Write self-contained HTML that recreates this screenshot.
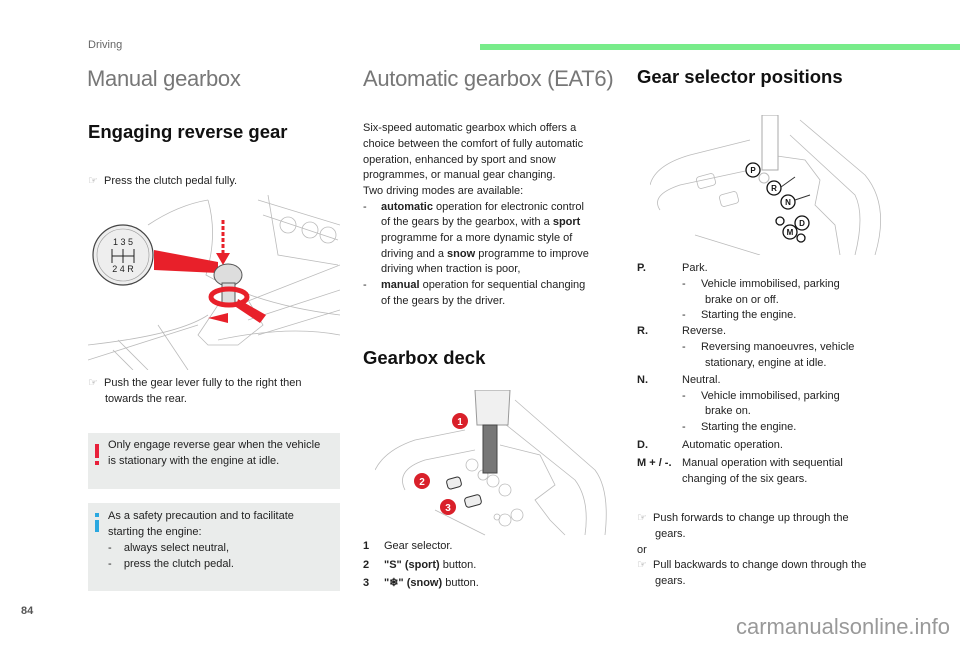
<!DOCTYPE html>
<html><head><meta charset="utf-8"><style>
*{margin:0;padding:0;box-sizing:border-box}
body{width:960px;height:649px;background:#fff;position:relative;overflow:hidden;font-family:"Liberation Sans",sans-serif;color:#222;font-size:11px}
.a{position:absolute;white-space:nowrap;line-height:15.7px}
.h1{position:absolute;font-size:22px;color:#777;white-space:nowrap;letter-spacing:-0.3px}
.h2{position:absolute;font-size:18.5px;font-weight:bold;color:#111;white-space:nowrap}
b{font-weight:bold}
.box{position:absolute;background:#eaeceb}
</style></head><body>
<div class="a" style="left:88px;top:38px;color:#666;font-size:11px">Driving</div>
<div style="position:absolute;left:480px;top:44px;width:480px;height:6px;background:#78ec8a"></div>

<div class="h1" style="left:87px;top:66px">Manual gearbox</div>
<div class="h1" style="left:363px;top:66px">Automatic gearbox (EAT6)</div>
<div class="h2" style="left:637px;top:66px">Gear selector positions</div>

<div class="h2" style="left:88px;top:121px">Engaging reverse gear</div>
<div class="a" style="left:88px;top:174px"><span style="color:#999">☞</span>&nbsp;&nbsp;Press the clutch pedal fully.</div>

<svg style="position:absolute;left:88px;top:195px" width="252" height="175" viewBox="0 0 252 175">
<g fill="none" stroke="#bbb" stroke-width="0.8">
<path d="M60 30 Q90 10 120 5"/><path d="M120 5 Q130 40 118 80 Q170 110 252 120"/>
<path d="M170 5 L252 30 M175 20 L250 45 M180 0 L190 60 L250 70"/>
<circle cx="200" cy="30" r="8"/><circle cx="222" cy="35" r="8"/><circle cx="240" cy="40" r="8"/>
<path d="M150 110 L252 70 M160 125 L252 95 M170 140 L252 115"/>
<path d="M0 150 Q90 140 120 120 M0 165 L110 130 M130 145 Q200 130 252 140"/>
<path d="M30 145 L60 175 M25 155 L45 175 M70 130 L100 175"/>
<path d="M110 140 L130 110 L160 105 L175 130 L150 150 L120 150 Z"/>
</g>
<circle cx="35" cy="60" r="30" fill="#eee" stroke="#444" stroke-width="1.2"/>
<circle cx="35" cy="60" r="26" fill="none" stroke="#999" stroke-width="0.6"/>
<text x="35" y="50" font-size="9" text-anchor="middle" fill="#222" font-family="Liberation Sans">1 3 5</text>
<text x="35" y="77" font-size="9" text-anchor="middle" fill="#222" font-family="Liberation Sans">2 4 R</text>
<path d="M24 54 V68 M35 54 V68 M46 54 V68 M24 61 H46" stroke="#222" fill="none"/>
<polygon points="66,55 130,67 130,78 66,75" fill="#e8202a"/>
<path d="M135 25 V60" stroke="#e8202a" stroke-width="3" stroke-dasharray="4 2"/>
<polygon points="128,58 142,58 135,70" fill="#e8202a"/>
<ellipse cx="140" cy="80" rx="14" ry="11" fill="#ddd" stroke="#555"/>
<rect x="134" y="88" width="13" height="20" fill="#ddd" stroke="#555"/>
<ellipse cx="141" cy="102" rx="18" ry="8" fill="none" stroke="#e8202a" stroke-width="5"/>
<polygon points="150,104 178,120 172,128 148,112" fill="#e8202a"/>
<polygon points="120,123 140,118 140,128" fill="#e8202a"/>
</svg>

<div class="a" style="left:88px;top:376px"><span style="color:#999">☞</span>&nbsp;&nbsp;Push the gear lever fully to the right then</div>
<div class="a" style="left:105px;top:392px">towards the rear.</div>

<div class="box" style="left:88px;top:433px;width:252px;height:56px"></div>
<div style="position:absolute;left:95px;top:444px;width:4px;height:14px;background:#e8203a"></div>
<div style="position:absolute;left:95px;top:461px;width:4px;height:4px;background:#e8203a"></div>
<div class="a" style="left:108px;top:438px">Only engage reverse gear when the vehicle</div>
<div class="a" style="left:108px;top:454px">is stationary with the engine at idle.</div>

<div class="box" style="left:88px;top:503px;width:252px;height:88px"></div>
<div style="position:absolute;left:95px;top:513px;width:4px;height:4px;background:#2aa8e0"></div>
<div style="position:absolute;left:95px;top:520px;width:4px;height:12px;background:#2aa8e0"></div>
<div class="a" style="left:108px;top:509px">As a safety precaution and to facilitate</div>
<div class="a" style="left:108px;top:525px">starting the engine:</div>
<div class="a" style="left:108px;top:541px">-&nbsp;&nbsp;&nbsp;&nbsp;always select neutral,</div>
<div class="a" style="left:108px;top:557px">-&nbsp;&nbsp;&nbsp;&nbsp;press the clutch pedal.</div>

<div class="a" style="left:363px;top:121px">Six-speed automatic gearbox which offers a</div>
<div class="a" style="left:363px;top:137px">choice between the comfort of fully automatic</div>
<div class="a" style="left:363px;top:153px">operation, enhanced by sport and snow</div>
<div class="a" style="left:363px;top:168px">programmes, or manual gear changing.</div>
<div class="a" style="left:363px;top:184px">Two driving modes are available:</div>
<div class="a" style="left:363px;top:200px">-</div>
<div class="a" style="left:381px;top:200px"><b>automatic</b> operation for electronic control</div>
<div class="a" style="left:381px;top:215px">of the gears by the gearbox, with a <b>sport</b></div>
<div class="a" style="left:381px;top:231px">programme for a more dynamic style of</div>
<div class="a" style="left:381px;top:247px">driving and a <b>snow</b> programme to improve</div>
<div class="a" style="left:381px;top:262px">driving when traction is poor,</div>
<div class="a" style="left:363px;top:278px">-</div>
<div class="a" style="left:381px;top:278px"><b>manual</b> operation for sequential changing</div>
<div class="a" style="left:381px;top:294px">of the gears by the driver.</div>

<div class="h2" style="left:363px;top:347px">Gearbox deck</div>

<svg style="position:absolute;left:375px;top:390px" width="235" height="150" viewBox="0 0 235 150">
<g fill="none" stroke="#bbb" stroke-width="0.8">
<path d="M0 80 Q10 60 40 50 L90 40 M30 100 Q20 80 50 70 L100 60"/>
<path d="M60 120 L110 145 M140 10 L220 80 Q235 100 230 145 M125 30 L200 90 Q215 110 210 145"/>
<path d="M125 55 L165 65 L180 95 L160 110 L175 130 L190 145"/>
<circle cx="97" cy="75" r="6"/><circle cx="108" cy="85" r="5"/><circle cx="118" cy="91" r="6"/><circle cx="130" cy="100" r="6"/>
<circle cx="130" cy="130" r="6"/><circle cx="142" cy="125" r="6"/><circle cx="122" cy="127" r="3"/>
</g>
<path d="M100 0 L135 0 L133 35 L102 35 Z" fill="#f0f0f0" stroke="#999"/>
<rect x="108" y="35" width="14" height="48" fill="#777" stroke="#444"/>
<rect x="72" y="88" width="14" height="10" rx="3" fill="#eee" stroke="#333" transform="rotate(-15 79 93)"/>
<rect x="90" y="106" width="16" height="10" rx="3" fill="#eee" stroke="#333" transform="rotate(-15 98 111)"/>
<circle cx="85" cy="31" r="8" fill="#d9202a"/><text x="85" y="35" font-size="10" font-weight="bold" fill="#fff" text-anchor="middle" font-family="Liberation Sans">1</text>
<circle cx="47" cy="91" r="8" fill="#d9202a"/><text x="47" y="95" font-size="10" font-weight="bold" fill="#fff" text-anchor="middle" font-family="Liberation Sans">2</text>
<circle cx="73" cy="117" r="8" fill="#d9202a"/><text x="73" y="121" font-size="10" font-weight="bold" fill="#fff" text-anchor="middle" font-family="Liberation Sans">3</text>
</svg>

<div class="a" style="left:363px;top:539px"><b>1</b></div><div class="a" style="left:384px;top:539px">Gear selector.</div>
<div class="a" style="left:363px;top:558px"><b>2</b></div><div class="a" style="left:384px;top:558px"><b>"S" (sport)</b> button.</div>
<div class="a" style="left:363px;top:576px"><b>3</b></div><div class="a" style="left:384px;top:576px"><b>"❄" (snow)</b> button.</div>

<svg style="position:absolute;left:650px;top:115px" width="235" height="140" viewBox="0 0 235 140">
<g fill="none" stroke="#bbb" stroke-width="0.8">
<path d="M0 70 Q5 50 40 40 L100 25 M150 5 L215 60 Q240 90 225 140 M10 95 Q0 80 30 70 L100 55"/>
<path d="M120 40 L155 45 L170 65 L165 90 L185 110 L190 140 M140 20 L205 80 Q215 100 205 140"/>
<rect x="47" y="60" width="18" height="12" rx="3" transform="rotate(-15 56 66)"/>
<rect x="70" y="78" width="18" height="12" rx="3" transform="rotate(-15 79 84)"/>
<path d="M45 120 L110 140"/>
</g>
<rect x="112" y="0" width="16" height="55" fill="#fff" stroke="#aaa"/>
<circle cx="114" cy="63" r="5" fill="none" stroke="#bbb"/>
<g fill="#fff" stroke="#111" stroke-width="1.3">
<circle cx="103" cy="55" r="7"/><circle cx="124" cy="73" r="7"/><circle cx="138" cy="87" r="7"/>
<circle cx="152" cy="108" r="7"/><circle cx="140" cy="117" r="7"/><circle cx="130" cy="106" r="4"/><circle cx="151" cy="123" r="4"/>
</g>
<g font-size="8" font-weight="bold" text-anchor="middle" font-family="Liberation Sans" fill="#111">
<text x="103" y="58">P</text><text x="124" y="76">R</text><text x="138" y="90">N</text><text x="152" y="111">D</text><text x="140" y="120">M</text></g>
<path d="M131 72 L145 62 M145 85 L160 80" stroke="#333" fill="none"/>
</svg>

<div class="a" style="left:637px;top:261px"><b>P.</b></div><div class="a" style="left:682px;top:261px">Park.</div>
<div class="a" style="left:682px;top:277px">-&nbsp;&nbsp;&nbsp;&nbsp;&nbsp;Vehicle immobilised, parking</div>
<div class="a" style="left:705px;top:293px">brake on or off.</div>
<div class="a" style="left:682px;top:308px">-&nbsp;&nbsp;&nbsp;&nbsp;&nbsp;Starting the engine.</div>
<div class="a" style="left:637px;top:324px"><b>R.</b></div><div class="a" style="left:682px;top:324px">Reverse.</div>
<div class="a" style="left:682px;top:340px">-&nbsp;&nbsp;&nbsp;&nbsp;&nbsp;Reversing manoeuvres, vehicle</div>
<div class="a" style="left:705px;top:356px">stationary, engine at idle.</div>
<div class="a" style="left:637px;top:373px"><b>N.</b></div><div class="a" style="left:682px;top:373px">Neutral.</div>
<div class="a" style="left:682px;top:389px">-&nbsp;&nbsp;&nbsp;&nbsp;&nbsp;Vehicle immobilised, parking</div>
<div class="a" style="left:705px;top:404px">brake on.</div>
<div class="a" style="left:682px;top:420px">-&nbsp;&nbsp;&nbsp;&nbsp;&nbsp;Starting the engine.</div>
<div class="a" style="left:637px;top:438px"><b>D.</b></div><div class="a" style="left:682px;top:438px">Automatic operation.</div>
<div class="a" style="left:637px;top:456px"><b>M + / -.</b></div><div class="a" style="left:682px;top:456px">Manual operation with sequential</div>
<div class="a" style="left:682px;top:472px">changing of the six gears.</div>

<div class="a" style="left:637px;top:511px"><span style="color:#999">☞</span>&nbsp;&nbsp;Push forwards to change up through the</div>
<div class="a" style="left:655px;top:527px">gears.</div>
<div class="a" style="left:637px;top:543px">or</div>
<div class="a" style="left:637px;top:558px"><span style="color:#999">☞</span>&nbsp;&nbsp;Pull backwards to change down through the</div>
<div class="a" style="left:655px;top:574px">gears.</div>

<div class="a" style="left:21px;top:604px;font-size:11px;font-weight:bold;color:#555">84</div>
<div class="a" style="left:736px;top:614px;font-size:22px;color:#999;line-height:26px">carmanualsonline.info</div>
</body></html>
